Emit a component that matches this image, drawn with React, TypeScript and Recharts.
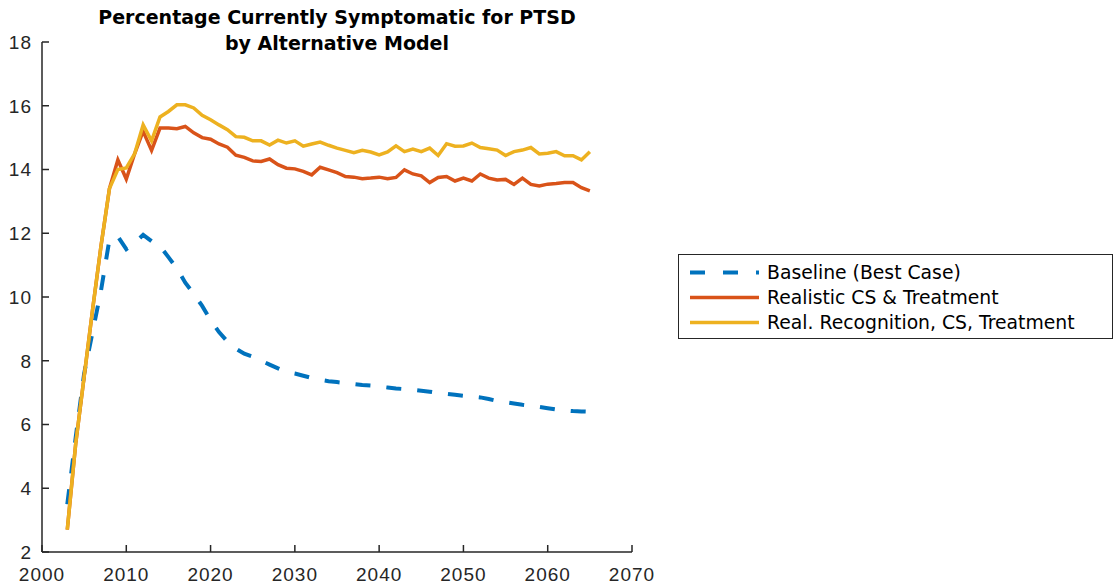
import { LineChart, Line, XAxis, YAxis } from 'recharts';

const years = [
  2003, 2004, 2005, 2006, 2007, 2008, 2009, 2010, 2011, 2012,
  2013, 2014, 2015, 2016, 2017, 2018, 2019, 2020, 2021, 2022,
  2023, 2024, 2025, 2026, 2027, 2028, 2029, 2030, 2031, 2032,
  2033, 2034, 2035, 2036, 2037, 2038, 2039, 2040, 2041, 2042,
  2043, 2044, 2045, 2046, 2047, 2048, 2049, 2050, 2051, 2052,
  2053, 2054, 2055, 2056, 2057, 2058, 2059, 2060, 2061, 2062,
  2063, 2064, 2065,
];

const baseline = [
  3.5, 5.6, 7.6, 8.9, 10.2, 11.8, 11.9, 11.5, 11.7, 11.95,
  11.75, 11.6, 11.25, 10.9, 10.45, 10.1, 9.72, 9.28, 8.9, 8.6,
  8.38, 8.22, 8.13, 8.0, 7.88, 7.76, 7.65, 7.6, 7.53, 7.46,
  7.4, 7.36, 7.33, 7.3, 7.27, 7.24, 7.22, 7.19, 7.16, 7.13,
  7.11, 7.09, 7.06, 7.03, 6.99, 6.96, 6.93, 6.9, 6.88, 6.85,
  6.8, 6.74, 6.7, 6.66, 6.62, 6.59, 6.55, 6.51, 6.47, 6.44,
  6.42, 6.41, 6.4,
];

const realistic = [
  2.7, 5.4, 7.5, 9.6, 11.6, 13.4, 14.3, 13.7, 14.5, 15.2,
  14.6, 15.3, 15.3, 15.28, 15.35, 15.15, 15.0, 14.95, 14.8, 14.7,
  14.45, 14.38, 14.27, 14.25, 14.33, 14.15, 14.04, 14.02, 13.94, 13.83,
  14.07, 13.99, 13.9, 13.78, 13.76, 13.71, 13.73, 13.76, 13.71, 13.75,
  13.99, 13.86, 13.8, 13.59, 13.75, 13.78, 13.64, 13.73, 13.64, 13.86,
  13.73, 13.67, 13.69, 13.53, 13.73, 13.53, 13.48, 13.54, 13.56, 13.59,
  13.59, 13.43, 13.33,
];

const recognition = [
  2.7, 5.4, 7.5, 9.6, 11.6, 13.4, 14.0, 14.05, 14.5, 15.4,
  14.9, 15.65, 15.82, 16.03, 16.03, 15.93, 15.7, 15.56, 15.4, 15.25,
  15.03, 15.01, 14.9, 14.9, 14.77, 14.92, 14.83, 14.9, 14.73, 14.8,
  14.86, 14.76, 14.67, 14.6, 14.53, 14.6, 14.55, 14.46, 14.55, 14.74,
  14.56, 14.64, 14.56, 14.67, 14.44, 14.81, 14.73, 14.74, 14.83, 14.69,
  14.65, 14.61, 14.44, 14.56, 14.61, 14.69, 14.49, 14.51, 14.56, 14.43,
  14.43, 14.3, 14.56,
];

const xTicks = [2000, 2010, 2020, 2030, 2040, 2050, 2060, 2070];
const yTicks = [2, 4, 6, 8, 10, 12, 14, 16, 18];

const SERIES = [
  { key: 'baseline', label: 'Baseline (Best Case)', color: '#0072BD', dash: '15 16' },
  { key: 'realistic', label: 'Realistic CS & Treatment', color: '#D95319', dash: undefined },
  { key: 'recognition', label: 'Real. Recognition, CS, Treatment', color: '#EDB120', dash: undefined },
];

const AXIS = '#262626';
const TICK_LEN = 7;
const Y_GAP = 10;
const TICK_FONT = '"Liberation Sans", Arial, sans-serif';

// MATLAB style: tick marks point into the plot area
function YTick(props: any) {
  const { x, y, payload } = props;
  return (
    <g>
      <line x1={x + Y_GAP} x2={x + Y_GAP + TICK_LEN} y1={y} y2={y} stroke={AXIS} strokeWidth={1.5} />
      <text x={x} y={y} dy="0.36em" textAnchor="end" fill={AXIS} fontSize={19} letterSpacing={1} fontFamily={TICK_FONT}>
        {payload.value}
      </text>
    </g>
  );
}

function XTick(props: any) {
  const { x, y, payload } = props;
  return (
    <g>
      <line x1={x} x2={x} y1={y} y2={y - TICK_LEN} stroke={AXIS} strokeWidth={1.5} />
      <text x={x} y={y + 29} textAnchor="middle" fill={AXIS} fontSize={19} letterSpacing={1} fontFamily={TICK_FONT}>
        {payload.value}
      </text>
    </g>
  );
}

export default function App() {
  const data = years.map((year, i) => ({
    year,
    baseline: baseline[i],
    realistic: realistic[i],
    recognition: recognition[i],
  }));

  return (
    <div style={{ position: 'absolute', left: 0, top: 0, width: 1114, height: 588, background: '#fff' }}>
      <div
        style={{
          position: 'absolute', left: 42, top: 4, width: 590, textAlign: 'center',
          fontFamily: '"DejaVu Sans", Verdana, sans-serif', fontWeight: 'bold', fontSize: 19,
          lineHeight: '26px', color: '#000',
        }}
      >
        Percentage Currently Symptomatic for PTSD
        <br />
        by Alternative Model
      </div>
      <LineChart
        width={1114}
        height={588}
        data={data}
        margin={{ top: 42, right: 482, bottom: 0, left: 0 }}
      >
        <XAxis
          dataKey="year"
          type="number"
          domain={[2000, 2070]}
          ticks={xTicks}
          height={36}
          stroke={AXIS}
          strokeWidth={1.5}
          tickLine={false}
          tickSize={0}
          tickMargin={0}
          tick={<XTick />}
          interval={0}
        />
        <YAxis
          type="number"
          domain={[2, 18]}
          ticks={yTicks}
          width={42}
          stroke={AXIS}
          strokeWidth={1.5}
          tickLine={false}
          tickSize={0}
          tickMargin={Y_GAP}
          tick={<YTick />}
          interval={0}
        />
        {SERIES.map(s => (
          <Line
            key={s.key}
            dataKey={s.key}
            type="linear"
            stroke={s.color}
            strokeWidth={s.dash ? 4 : 3.5}
            strokeDasharray={s.dash}
            dot={false}
            activeDot={false}
            isAnimationActive={false}
          />
        ))}
      </LineChart>
      <div
        style={{
          position: 'absolute', left: 678, top: 254, width: 435, height: 85,
          border: '1px solid #262626', boxSizing: 'border-box', background: '#fff',
          fontFamily: '"DejaVu Sans", Verdana, sans-serif', fontSize: 18.8, color: '#000',
          paddingTop: 5,
        }}
      >
        {SERIES.map(s => (
          <div key={s.key} style={{ display: 'flex', alignItems: 'center', height: 25 }}>
            <svg width={88} height={25} style={{ flex: 'none' }}>
              <line
                x1={11} x2={80} y1={12.5} y2={12.5}
                stroke={s.color} strokeWidth={s.dash ? 4 : 3.5}
                strokeDasharray={s.dash ? '15 18' : undefined}
              />
            </svg>
            <span style={{ whiteSpace: 'nowrap' }}>{s.label}</span>
          </div>
        ))}
      </div>
    </div>
  );
}
